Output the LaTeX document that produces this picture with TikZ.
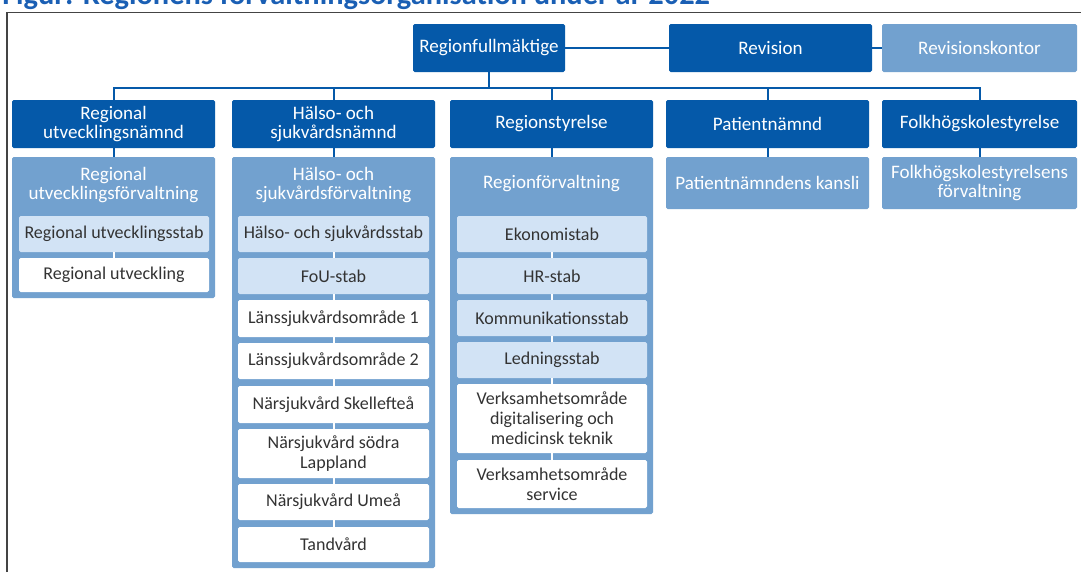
\documentclass[tikz,border=0pt]{standalone}
\usepackage{fontspec}
\setmainfont{Carlito}
\definecolor{dkb}{HTML}{0559A9}
\definecolor{mdb}{HTML}{72A1CF}
\definecolor{plb}{HTML}{D2E3F5}
\definecolor{txt}{HTML}{333333}
\definecolor{ttl}{HTML}{1A5FB4}
\definecolor{frm}{HTML}{444444}
% box from pixel corners: style, x1, y1, x2, y2, name, text
\newcommand\pbox[7]{\node[#1, minimum width={(#4-#2)*0.75pt}, minimum height={(#5-#3)*0.75pt}] (#6) at ({(#2+#4)/2},{(#3+#5)/2}) {#7};}
\begin{document}
\begin{tikzpicture}[x=0.75pt,y=-0.75pt,
  box/.style={inner sep=0pt, rounded corners=1.2pt, align=center, font=\fontsize{13.5}{15}\selectfont},
  dark/.style={box, fill=dkb, text=white, font=\fontsize{14.3}{14.8}\selectfont},
  mid/.style={box, fill=mdb, text=white, font=\fontsize{14.3}{14.8}\selectfont},
  pale/.style={box, fill=plb, text=txt},
  wht/.style={box, fill=white, text=txt},
  ctitle/.style={inner sep=0pt, align=center, text=white, font=\fontsize{14.3}{14.8}\selectfont},
  conn/.style={draw=dkb, line width=1.5pt},
  inconn/.style={draw=white, line width=1.5pt},
  frame/.style={draw=frm, line width=0.8pt}]
\useasboundingbox (0,0) rectangle (1081,572);
\clip (0,0) rectangle (1081,572);
\fill[white] (0,0) rectangle (1081,572);

% cut-off title
\node[anchor=base west, inner sep=0pt, text=ttl, font=\fontsize{22.8}{24}\selectfont\bfseries] (title) at (2,4) {Figur: Regionens förvaltningsorganisation under år 2022};
% frame
\draw[frame] (7,572) -- (7,12.5) -- (1081,12.5);

% row 1
\pbox{dark}{413}{24}{565}{72}{rf}{Regionfullmäktige}
\pbox{dark}{669}{24}{872}{72}{rev}{Revision}
\pbox{mid}{882}{24}{1077}{72}{rk}{Revisionskontor}

% row 2
\pbox{dark}{12}{100}{215}{148}{run}{Regional\\utvecklingsnämnd}
\pbox{dark}{232}{100}{435}{148}{hsn}{Hälso- och\\sjukvårdsnämnd}
\pbox{dark}{450}{100}{653}{148}{rs}{Regionstyrelse}
\pbox{dark}{666}{100}{869}{148}{pn}{Patientnämnd}
\pbox{dark}{882}{100}{1077}{148}{fs}{Folkhögskolestyrelse}

% row 3 containers
\pbox{mid}{12}{157}{215}{298}{ruf}{}
\node[ctitle] (ruft) at (113.5,185) {Regional\\utvecklingsförvaltning};
\pbox{mid}{232}{157}{435}{568}{hsf}{}
\node[ctitle] (hsft) at (333.5,185) {Hälso- och\\sjukvårdsförvaltning};
\pbox{mid}{450}{157}{653}{514}{rf2}{}
\node[ctitle] (rf2t) at (551.5,184) {Regionförvaltning};
\pbox{mid}{666}{157}{869}{209}{pk}{Patientnämndens kansli}
\pbox{mid}{882}{157}{1077}{209}{fsf}{Folkhögskolestyrelsens\\förvaltning}

% inner boxes column 1
\pbox{pale}{19}{216}{209}{252}{a1}{Regional utvecklingsstab}
\pbox{wht}{19}{258}{209}{292}{a2}{Regional utveckling}

% inner boxes column 2
\pbox{pale}{238}{216}{429}{252}{b1}{Hälso- och sjukvårdsstab}
\pbox{pale}{238}{258}{429}{294}{b2}{FoU-stab}
\pbox{wht}{238}{300}{429}{337}{b3}{Länssjukvårdsområde 1}
\pbox{wht}{238}{343}{429}{379}{b4}{Länssjukvårdsområde 2}
\pbox{wht}{238}{386}{429}{423}{b5}{Närsjukvård Skellefteå}
\pbox{wht}{238}{429}{429}{478}{b6}{Närsjukvård södra\\Lappland}
\pbox{wht}{238}{484}{429}{520}{b7}{Närsjukvård Umeå}
\pbox{wht}{238}{527}{429}{562}{b8}{Tandvård}

% inner boxes column 3
\pbox{pale}{457}{216}{647}{252}{c1}{Ekonomistab}
\pbox{pale}{457}{258}{647}{294}{c2}{HR-stab}
\pbox{pale}{457}{300}{647}{336}{c3}{Kommunikationsstab}
\pbox{pale}{457}{342}{647}{378}{c4}{Ledningsstab}
\pbox{wht}{457}{384}{647}{453}{c5}{Verksamhetsområde\\digitalisering och\\medicinsk teknik}
\pbox{wht}{457}{460}{647}{508}{c6}{Verksamhetsområde\\service}

% connectors
\coordinate (bus) at (0,88);
\draw[conn] (rf.east) -- (rev.west);
\draw[conn] (rev.east) -- (rk.west);
\draw[conn] (rf.south) -- (rf.south |- bus) -| (run.north);
\draw[conn] (rf.south) -- (rf.south |- bus) -| (hsn.north);
\draw[conn] (rf.south) -- (rf.south |- bus) -| (rs.north);
\draw[conn] (rf.south) -- (rf.south |- bus) -| (pn.north);
\draw[conn] (rf.south) -- (rf.south |- bus) -| (fs.north);
\draw[conn] (run.south) -- (ruf.north);
\draw[conn] (hsn.south) -- (hsf.north);
\draw[conn] (rs.south) -- (rf2.north);
\draw[conn] (pn.south) -- (pk.north);
\draw[conn] (fs.south) -- (fsf.north);

\draw[inconn] (a1.south) -- (a2.north);
\draw[inconn] (b1.south) -- (b2.north);
\draw[inconn] (b2.south) -- (b3.north);
\draw[inconn] (b3.south) -- (b4.north);
\draw[inconn] (b4.south) -- (b5.north);
\draw[inconn] (b5.south) -- (b6.north);
\draw[inconn] (b6.south) -- (b7.north);
\draw[inconn] (b7.south) -- (b8.north);
\draw[inconn] (c1.south) -- (c2.north);
\draw[inconn] (c2.south) -- (c3.north);
\draw[inconn] (c3.south) -- (c4.north);
\draw[inconn] (c4.south) -- (c5.north);
\draw[inconn] (c5.south) -- (c6.north);
\end{tikzpicture}
\end{document}
